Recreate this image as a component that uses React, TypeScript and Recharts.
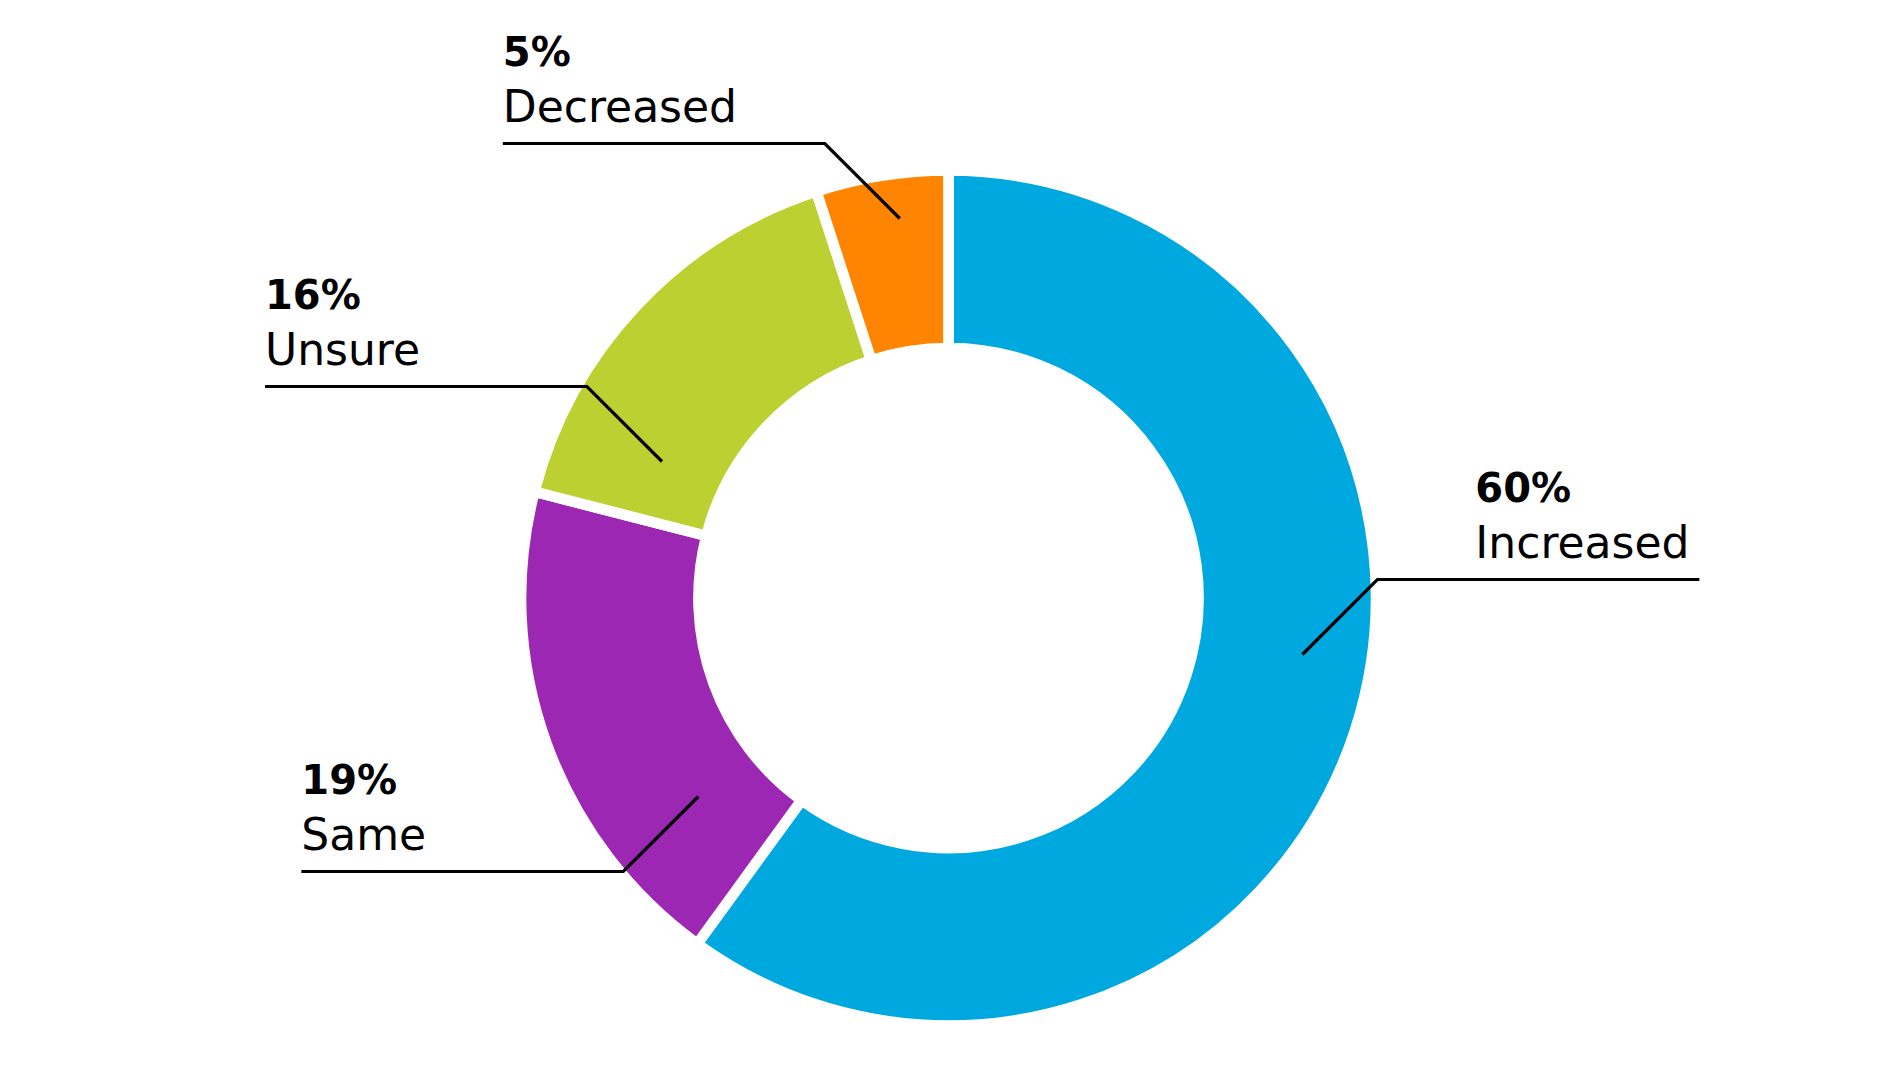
// App.tsx - donut chart of change responses with elbow callouts
import React from 'react'
import { PieChart, Pie, Cell } from 'recharts'

const categories = ['Increased', 'Same', 'Unsure', 'Decreased']
const shares = [60, 19, 16, 5]
const sliceColors = ['#00A8E0', '#9C27B3', '#BDD031', '#FF8400']

// callout placement: angle shift from slice middle (deg), position across the ring (0 inner - 1 outer), direction
const calloutShift = [9, 18.6, 17.7, -1.7]
const calloutDepth = [0.61, 0.39, 0.38, 0.75]
const calloutDir = [
  [1, -1],
  [-1, 1],
  [-1, -1],
  [-1, -1],
]

const RADIAN = Math.PI / 180
const DIAG = 75
const RUN = 322
const FONT = '"DejaVu Sans", sans-serif'

const chartData = categories.map((name, i) => ({ name, value: shares[i] }))

const renderCallout = (props: any) => {
  const { cx, cy, midAngle, innerRadius, outerRadius, index, value, name } = props
  const angle = midAngle + calloutShift[index]
  const r = innerRadius + calloutDepth[index] * (outerRadius - innerRadius)
  const ax = cx + r * Math.cos(-angle * RADIAN)
  const ay = cy + r * Math.sin(-angle * RADIAN)
  const [dx, dy] = calloutDir[index]
  const ex = ax + dx * DIAG
  // snap the horizontal run to the pixel grid so it stays crisp
  const ey = Math.round(ay + dy * DIAG) + 0.5
  const ayy = ey - dy * DIAG
  const lx = ex + dx * RUN
  const textX = dx < 0 ? lx : ex + 98

  return (
    <g key={`callout-${index}`}>
      <polyline
        points={`${ax},${ayy} ${ex},${ey} ${lx},${ey}`}
        fill="none"
        stroke="#000"
        strokeWidth={3.2}
      />
      <text x={textX} y={ey - 78} fill="#000" fontFamily={FONT} fontSize={40} fontWeight={700}>
        {`${value}%`}
      </text>
      <text x={textX} y={ey - 22} fill="#000" fontFamily={FONT} fontSize={44} fontWeight={400}>
        {name}
      </text>
    </g>
  )
}

export default function App() {
  return (
    <div style={{ position: 'absolute', left: 0, top: 0, width: 1893, height: 1076, background: '#fff' }}>
      <PieChart width={1893} height={1076} margin={{ top: 0, right: 0, bottom: 0, left: 0 }}>
        <Pie
          data={chartData}
          dataKey="value"
          nameKey="name"
          cx={948.5}
          cy={598}
          innerRadius={250}
          outerRadius={427.5}
          startAngle={90}
          endAngle={-270}
          stroke="#fff"
          strokeWidth={10.7}
          label={renderCallout}
          labelLine={false}
          isAnimationActive={false}
        >
          {chartData.map((entry, index) => (
            <Cell key={`cell-${index}`} fill={sliceColors[index]} />
          ))}
        </Pie>
      </PieChart>
    </div>
  )
}
